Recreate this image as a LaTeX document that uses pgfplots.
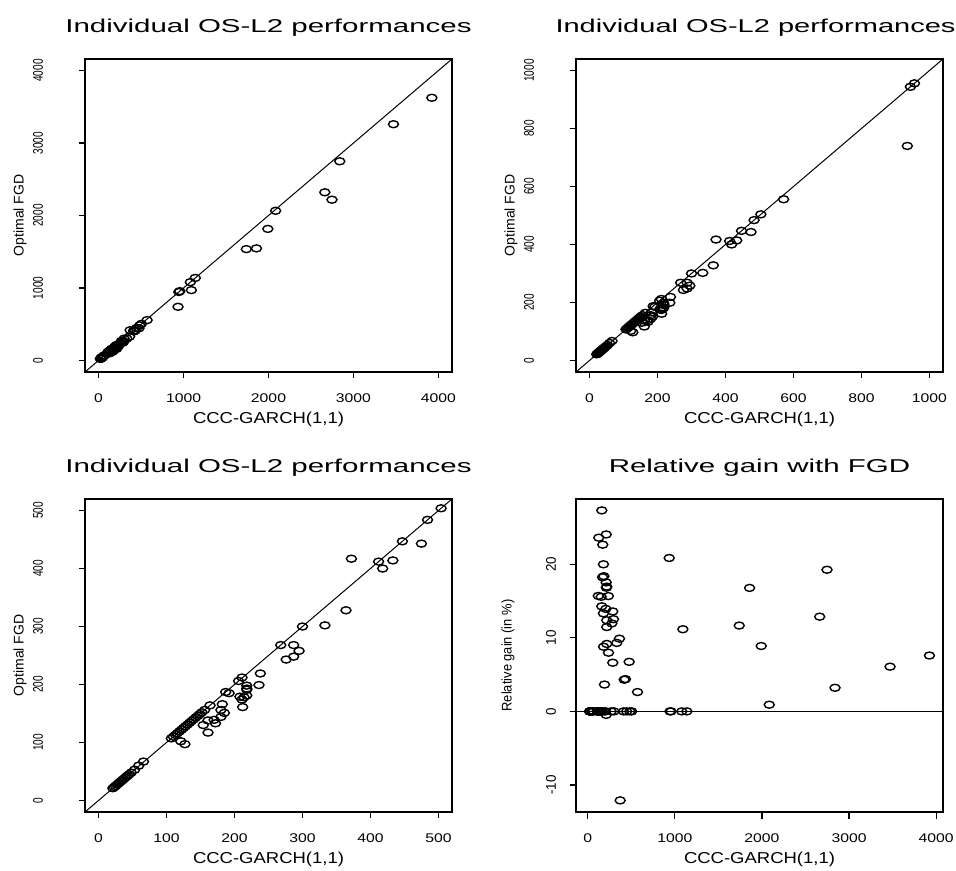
\documentclass[border=0pt]{standalone}
\usepackage{fontspec}
\setmainfont{Liberation Sans}
\usepackage{graphicx}
\usepackage{pgfplots}
\usepackage{pgfplotstable}
\pgfplotsset{compat=1.18}

\newcommand\hx[1]{\scalebox{1.25}[1]{#1}}
\newcommand\vy[1]{\scalebox{0.72}[1]{#1}}
\newcommand\vz[1]{\scalebox{0.96}[1]{#1}}

\pgfplotstableread{
x y g
21 21 0
23 23 0
25 25 0
27 27 0
29 29 0
31 31 0
33 33 0
35 35 0
37 37 0
39 39 0
41 41 0
43 43 0
45 45 0
48 48 0
53 53 0
59 60 0
66 67 0
107 107 0
110 110 0
113 113 0
116 116 0
119 119 0
122 122 0
125 125 0
128 128 0
131 131 0
134 134 0
137 137 0
140 140 0
143 143 0
146 146 0
149 149 0
152 152 0
156 156 0
164 164 0
187 187 0
206 206 0
268 268 0
300 300 0
412 412 0
447 447 0
484 484 0
504 504 0
944 944 0
956 956 0
1080 1080 0
1138 1138 0
161 117 27.33
127 97 23.62
212 161 24.06
172 133 22.67
180 144 20.00
170 139 18.24
185 151 18.38
211 174 17.54
218 181 16.97
214 178 16.82
121 102 15.70
154 130 15.58
236 199 15.68
161 138 14.29
208 179 13.94
287 248 13.59
180 156 13.33
295 258 12.54
218 191 12.39
276 243 11.96
218 193 11.47
364 328 9.89
182 166 8.79
218 198 9.17
333 302 9.31
238 219 7.98
287 268 6.62
475 443 6.74
418 400 4.31
433 414 4.39
192 185 3.65
571 556 2.63
211 212 -0.47
372 417 -12.10
935 740 20.86
1092 970 11.17
1739 1536 11.67
1858 1546 16.79
1992 1815 8.89
2084 2065 0.91
2663 2320 12.88
2747 2218 19.26
2839 2748 3.21
3471 3260 6.08
3923 3625 7.60
}\data

\pgfplotsset{
  rstyle/.style={
    width=183.5bp, height=156.5bp, scale only axis,
    axis line style={line width=0.75bp},
    tick align=outside, major tick length=3.25bp,
    every tick/.style={black, line width=0.6bp},
    xtick pos=bottom, ytick pos=left,
    minor tick num=0,
    clip=true,
    xticklabel style={anchor=north, inner sep=0pt, font=\fontsize{6.3bp}{7bp}\selectfont},
    xticklabel shift=7.25bp,
    yticklabel style={rotate=90, anchor=south, inner sep=0pt},
    title style={at={(axis description cs:0.5,1.0831)}, anchor=base, inner sep=0pt, yshift=-6pt, font=\fontsize{9.3bp}{11bp}\selectfont},
    xlabel style={at={(axis description cs:0.5,-0.1661)}, anchor=base, inner sep=0pt, font=\fontsize{7.9bp}{9bp}\selectfont},
    ylabel style={at={(axis description cs:-0.1771,0.5)}, anchor=center, inner sep=0pt, font=\fontsize{7bp}{8bp}\selectfont},
    xlabel={\scalebox{1.17}[1]{CCC-GARCH(1,1)}},
  },
  pts/.style={only marks, mark=o, mark size=1.75bp, mark options={xscale=1.43, line width=0.7bp, black}},
  ref/.style={black, line width=0.5bp, no marks},
}

\begin{document}
\begin{tikzpicture}
\useasboundingbox (0,0) rectangle (478bp,435.5bp);

% Panel 1
\begin{axis}[rstyle, at={(42.5bp,249.5bp)}, anchor=south west,
  xmin=-160, xmax=4160, ymin=-160, ymax=4160,
  xtick={0,1000,2000,3000,4000},
  xticklabels={\hx{0},\hx{1000},\hx{2000},\hx{3000},\hx{4000}},
  ytick={0,1000,2000,3000,4000},
  yticklabels={\vy{0},\vy{1000},\vy{2000},\vy{3000},\vy{4000}},
  yticklabel style={font=\fontsize{7bp}{8bp}\selectfont},
  yticklabel shift=17.5bp,
  title={\scalebox{1.585}[1]{Individual OS-L2 performances}},
  ylabel={Optimal FGD}]
\addplot[pts] table[x=x,y=y] {\data};
\addplot[ref] coordinates {(-500,-500) (5000,5000)};
\end{axis}

% Panel 2
\begin{axis}[rstyle, at={(288bp,249.5bp)}, anchor=south west,
  xmin=-40, xmax=1040, ymin=-40, ymax=1040,
  xtick={0,200,400,600,800,1000},
  xticklabels={\hx{0},\hx{200},\hx{400},\hx{600},\hx{800},\hx{1000}},
  ytick={0,200,400,600,800,1000},
  yticklabels={\vy{0},\vy{200},\vy{400},\vy{600},\vy{800},\vy{1000}},
  yticklabel style={font=\fontsize{7bp}{8bp}\selectfont},
  yticklabel shift=17.5bp,
  title={\hspace*{-4bp}\scalebox{1.56}[1]{Individual OS-L2 performances}},
  ylabel={Optimal FGD}]
\addplot[pts] table[x=x,y=y] {\data};
\addplot[ref] coordinates {(-500,-500) (5000,5000)};
\end{axis}

% Panel 3
\begin{axis}[rstyle, at={(42.5bp,29.5bp)}, anchor=south west,
  xmin=-20, xmax=520, ymin=-20, ymax=520,
  xtick={0,100,200,300,400,500},
  xticklabels={\hx{0},\hx{100},\hx{200},\hx{300},\hx{400},\hx{500}},
  ytick={0,100,200,300,400,500},
  yticklabels={\vy{0},\vy{100},\vy{200},\vy{300},\vy{400},\vy{500}},
  yticklabel style={font=\fontsize{7bp}{8bp}\selectfont},
  yticklabel shift=17.5bp,
  title={\scalebox{1.585}[1]{Individual OS-L2 performances}},
  ylabel={Optimal FGD}]
\addplot[pts] table[x=x,y=y] {\data};
\addplot[ref] coordinates {(-500,-500) (5000,5000)};
\end{axis}

% Panel 4
\begin{axis}[rstyle, at={(288bp,29.5bp)}, anchor=south west,
  xmin=-135, xmax=4079, ymin=-13.68, ymax=28.88,
  xtick={0,1000,2000,3000,4000},
  xticklabels={\hx{0},\hx{1000},\hx{2000},\hx{3000},\hx{4000}},
  ytick={-10,0,10,20},
  yticklabels={\vz{-10},\vz{0},\vz{10},\vz{20}},
  yticklabel style={font=\fontsize{7bp}{8bp}\selectfont},
  yticklabel shift=6.5bp,
  ylabel style={at={(axis description cs:-0.1853,0.5)}},
  title={\scalebox{1.585}[1]{Relative gain with FGD}},
  ylabel={\scalebox{0.92}[1]{Relative gain (in \%)}}]
\addplot[pts] table[x=x,y=g] {\data};
\addplot[ref] coordinates {(-500,0) (5000,0)};
\end{axis}
\end{tikzpicture}
\end{document}
